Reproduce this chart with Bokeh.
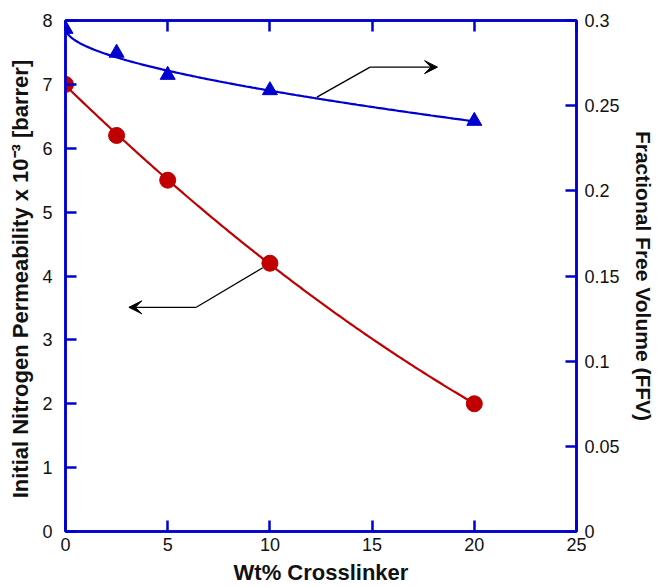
import numpy as np
from bokeh.plotting import figure
from bokeh.models import Range1d, LinearAxis, FixedTicker, Arrow, VeeHead
from bokeh.embed import file_html
from bokeh.resources import INLINE

# ---- data ----
crosslinker = [0, 2.5, 5, 10, 20]
permeability = [7.0, 6.2, 5.5, 4.2, 2.0]
ffv = [0.295, 0.281, 0.268, 0.259, 0.241]

x_ticks = [0, 5, 10, 15, 20, 25]
left_ticks = [0, 1, 2, 3, 4, 5, 6, 7, 8]
right_ticks = [0, 0.05, 0.1, 0.15, 0.2, 0.25, 0.3]
right_labels = ["0", "0.05", "0.1", "0.15", "0.2", "0.25", "0.3"]

# annotation arrow paths (x, left-axis y)
arrow_up_x = [12.3, 14.9, 18.2]
arrow_up_y = [6.80, 7.27, 7.27]
arrow_dn_x = [9.65, 6.4, 3.1]
arrow_dn_y = [4.13, 3.51, 3.51]

BLUE = "#0000D0"
RED = "#C00000"
FONT = "Liberation Sans"

p = figure(width=657, height=587, x_range=Range1d(0, 25), y_range=Range1d(0, 8),
           output_backend="svg", toolbar_location=None,
           min_border_left=65, min_border_right=79, min_border_top=20, min_border_bottom=54)
p.extra_y_ranges = {"ffv": Range1d(0, 0.3)}
p.xgrid.visible = False
p.ygrid.visible = False
p.outline_line_color = BLUE
p.outline_line_width = 2.5


def style(ax, ticks, labels=True):
    ax.ticker = FixedTicker(ticks=ticks)
    ax.axis_line_color = BLUE
    ax.axis_line_width = 2.5
    ax.major_tick_line_color = BLUE
    ax.major_tick_line_width = 2.5
    ax.major_tick_in = 11
    ax.major_tick_out = 0
    ax.minor_tick_line_color = None
    ax.major_label_text_font = FONT
    ax.major_label_text_font_size = "18px"
    ax.major_label_text_color = "#111111"
    ax.axis_label_text_font = FONT
    ax.axis_label_text_font_size = "21px"
    ax.axis_label_text_font_style = "bold"
    ax.axis_label_text_color = "#111111"
    if not labels:
        ax.major_label_text_color = None


xa = p.xaxis[0]
style(xa, x_ticks)
xa.axis_label = "Wt% Crosslinker"
xa.axis_label_text_font_size = "22px"
xa.major_label_standoff = 6
xa.axis_label_standoff = 6

ya = p.yaxis[0]
style(ya, left_ticks)
ya.axis_label = "Initial Nitrogen Permeability x 10⁻³  [barrer]"
ya.axis_label_text_font_size = "22px"
ya.major_label_standoff = 13
ya.axis_label_standoff = 6

ra = LinearAxis(y_range_name="ffv")
style(ra, right_ticks)
ra.major_label_overrides = {t: l for t, l in zip(right_ticks, right_labels)}
ra.axis_label = "Fractional Free Volume (FFV)"
ra.major_label_standoff = 8
ra.axis_label_standoff = 9
p.add_layout(ra, "right")

ta = LinearAxis()
style(ta, x_ticks, labels=False)
ta.major_label_text_font_size = "0px"
p.add_layout(ta, "above")

# ---- fitted curves ----
xs = np.linspace(0, 20, 200)
c_red = np.polyfit(crosslinker, permeability, 2)
p.line(xs, np.polyval(c_red, xs), line_color=RED, line_width=2.2)

sq = np.sqrt(np.array(crosslinker))
c_blue = np.polyfit(sq, ffv, 2)
p.line(xs, np.polyval(c_blue, np.sqrt(xs)), line_color=BLUE, line_width=2.2, y_range_name="ffv")

# ---- markers ----
p.scatter(crosslinker, permeability, marker="circle", size=16, fill_color=RED, line_color=RED)
p.scatter(crosslinker, ffv, marker="triangle", size=15, fill_color=BLUE, line_color=BLUE,
          y_range_name="ffv")

# ---- annotation arrows ----
for ax_, ay_ in [(arrow_up_x, arrow_up_y), (arrow_dn_x, arrow_dn_y)]:
    p.line(ax_[:2], ay_[:2], line_color="black", line_width=1.3)
    p.add_layout(Arrow(x_start=ax_[1], y_start=ay_[1], x_end=ax_[2], y_end=ay_[2],
                       line_color="black", line_width=1.3,
                       end=VeeHead(size=13, fill_color="black", line_color="black")))

open("out.html", "w").write(file_html(p, INLINE))
